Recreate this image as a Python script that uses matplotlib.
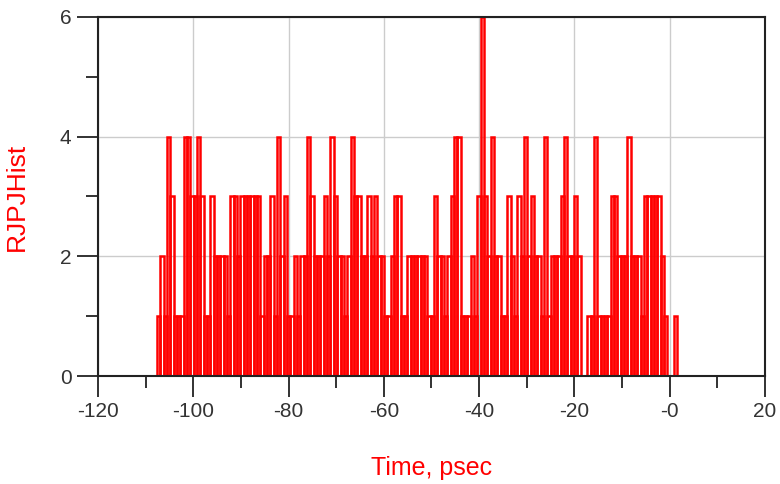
import numpy as np
import matplotlib
matplotlib.use("Agg")
from matplotlib import pyplot as plt
from matplotlib.ticker import MultipleLocator

plt.rcParams['font.family'] = ['Liberation Sans', 'DejaVu Sans']

# histogram bins (psec)
bin_start = -107.6
bin_width = 0.7
counts = [1, 2, 1, 4, 3, 1, 1, 1, 4, 4,
          3, 3, 4, 3, 1, 1, 3, 2, 2, 2,
          2, 1, 3, 3, 2, 3, 3, 3, 3, 3,
          3, 1, 2, 2, 3, 1, 4, 2, 3, 1,
          1, 2, 1, 2, 2, 4, 3, 2, 2, 2,
          3, 2, 4, 3, 2, 2, 1, 2, 4, 3,
          3, 2, 2, 3, 2, 3, 2, 2, 1, 1,
          2, 3, 3, 1, 1, 2, 2, 2, 2, 2,
          2, 1, 1, 3, 2, 2, 1, 2, 3, 4,
          4, 1, 1, 1, 2, 1, 3, 6, 3, 2,
          4, 2, 2, 1, 1, 3, 2, 1, 3, 2,
          4, 2, 3, 2, 2, 1, 4, 1, 2, 2,
          2, 3, 4, 2, 2, 3, 2, 0, 0, 1,
          1, 4, 1, 1, 1, 1, 3, 3, 2, 2,
          2, 4, 2, 2, 2, 1, 3, 3, 3, 3,
          3, 2, 1, 0, 0, 1]

x_ticks = [-120, -100, -80, -60, -40, -20, 0, 20]
x_tick_labels = ['-120', '-100', '-80', '-60', '-40', '-20', '-0', '20']
y_ticks = [0, 2, 4, 6]

lefts = bin_start + bin_width * np.arange(len(counts))

fig = plt.figure(figsize=(7.8, 4.84), dpi=100)
ax = fig.add_axes([98 / 780, 1 - 376 / 484, (765 - 98) / 780, (376 - 17) / 484])

ax.bar(lefts, counts, width=bin_width, align='edge', fill=False,
       edgecolor='#ff0000', linewidth=1.8, zorder=3)

ax.set_xlim(-120, 20)
ax.set_ylim(0, 6)
ax.set_xticks(x_ticks)
ax.set_xticklabels(x_tick_labels)
ax.set_yticks(y_ticks)
ax.xaxis.set_minor_locator(MultipleLocator(10))
ax.yaxis.set_minor_locator(MultipleLocator(1))

ax.grid(True, which='major', color='#cccccc', linewidth=1.0, zorder=0)
ax.set_axisbelow(True)

for s in ax.spines.values():
    s.set_color('#222222')
    s.set_linewidth(1.5)
    s.set_zorder(4)

ax.tick_params(which='major', direction='out', length=15, width=1.3,
               color='#222222', labelsize=15, labelcolor='#333333', pad=4)
ax.tick_params(which='minor', direction='out', length=8.5, width=1.3,
               color='#222222')

ax.set_xlabel('Time, psec', color='#ff0000', fontsize=18, labelpad=25)
ax.set_ylabel('RJPJHist', color='#ff0000', fontsize=19, labelpad=22)

fig.savefig('out.png', dpi=100)
